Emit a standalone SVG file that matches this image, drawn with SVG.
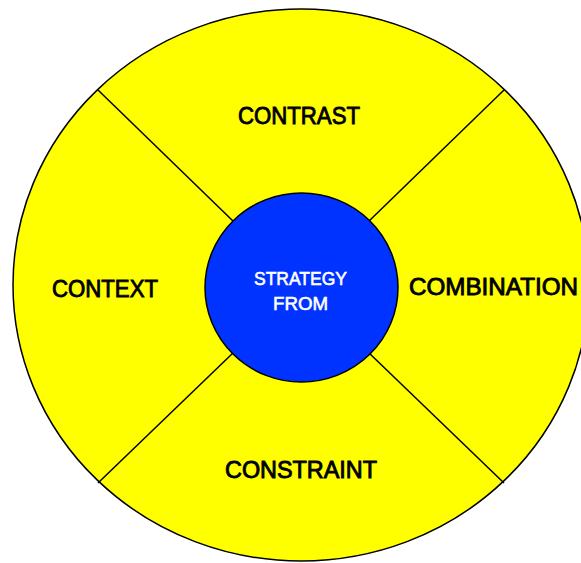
<svg xmlns="http://www.w3.org/2000/svg" width="581" height="563" viewBox="0 0 581 563">
<style>
.lbl{font-family:"Liberation Sans",Arial,sans-serif;font-size:24px;fill:#000;stroke:#000;stroke-width:0.9;text-anchor:middle}
.ctr{font-family:"Liberation Sans",Arial,sans-serif;font-size:19px;fill:#fff;stroke:#fff;stroke-width:0.6;text-anchor:middle}
.div{stroke:#000;stroke-width:1.5;fill:none}
</style>
<rect width="581" height="563" fill="#fff"/>
<g id="outer-ring">
<ellipse cx="301" cy="285" rx="288" ry="276" fill="#ffff00" stroke="#000" stroke-width="1.5"/>
</g>
<g id="connectors">
<line class="div" x1="98" y1="90" x2="234" y2="222"/>
<line class="div" x1="504" y1="90" x2="368" y2="222"/>
<line class="div" x1="98" y1="483" x2="234" y2="352"/>
<line class="div" x1="504" y1="483" x2="368" y2="352"/>
</g>
<g id="contrast">
<text class="lbl" x="299" y="124" textLength="122" lengthAdjust="spacingAndGlyphs">CONTRAST</text>
</g>
<g id="context">
<text class="lbl" x="105" y="297" textLength="106" lengthAdjust="spacingAndGlyphs">CONTEXT</text>
</g>
<g id="combination">
<text class="lbl" x="493.5" y="295" textLength="169" lengthAdjust="spacingAndGlyphs">COMBINATION</text>
</g>
<g id="constraint">
<text class="lbl" x="301" y="478" textLength="152" lengthAdjust="spacingAndGlyphs">CONSTRAINT</text>
</g>
<g id="strategy-from">
<ellipse cx="301.5" cy="287.5" rx="96.5" ry="94.5" fill="#0033ff" stroke="#000" stroke-width="1.5"/>
<text class="ctr" x="300.5" y="285" textLength="93" lengthAdjust="spacingAndGlyphs">STRATEGY</text>
<text class="ctr" x="300.5" y="310" textLength="55" lengthAdjust="spacingAndGlyphs">FROM</text>
</g>
</svg>
